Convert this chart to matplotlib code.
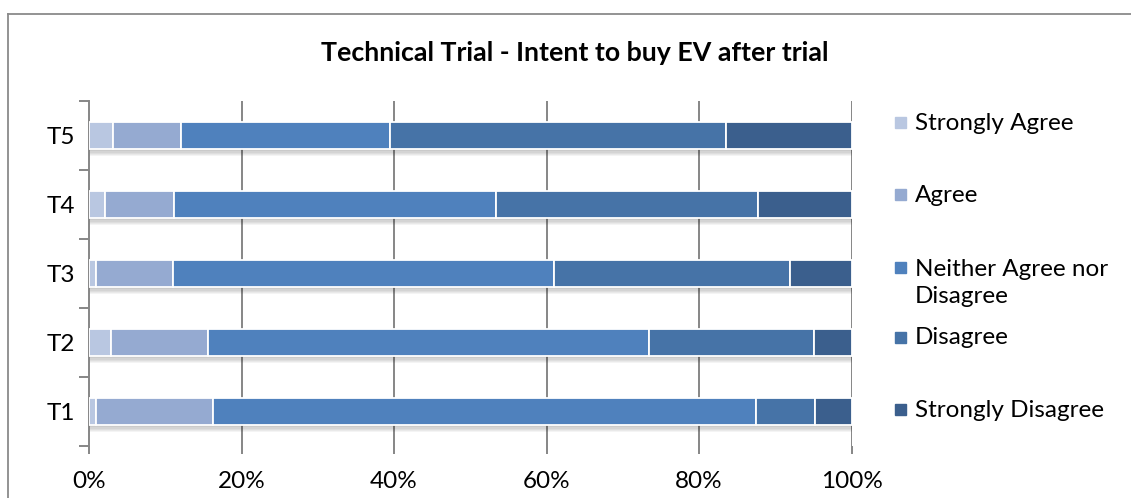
import numpy as np
import matplotlib.pyplot as plt
from matplotlib.lines import Line2D
from matplotlib.patches import Rectangle

plt.rcParams['font.family'] = ['Lato', 'DejaVu Sans']

trials = ['T1', 'T2', 'T3', 'T4', 'T5']
responses = ['Strongly Agree', 'Agree', 'Neither Agree nor\nDisagree', 'Disagree', 'Strongly Disagree']

# share of answers (%) per trial, one list per response
strongly_agree = [0.9, 2.9, 0.9, 2.1, 3.2]
agree = [15.4, 12.7, 10.1, 9.0, 8.8]
neither = [71.2, 57.9, 50.0, 42.3, 27.5]
disagree = [7.7, 21.6, 30.9, 34.4, 44.0]
strongly_disagree = [4.8, 4.9, 8.1, 12.2, 16.5]

colors = ['#B9C7E1', '#95AAD1', '#4F81BD', '#4673A7', '#3B5F8D']
series = [strongly_agree, agree, neither, disagree, strongly_disagree]

W, H = 1131, 498
fig = plt.figure(figsize=(W / 100, H / 100), dpi=100)
ax = fig.add_axes([89 / W, 1 - 446 / H, (851.5 - 89) / W, (446 - 101) / H])

y = np.arange(len(trials))
bar_h = 0.39

# soft drop shadow under each bar
for k in range(1, 7):
    ax.barh(y - 0.018 * k, 100, height=bar_h, left=0, color='#000000',
            alpha=0.045, linewidth=0, zorder=1)
ax.barh(y, 100, height=bar_h, color='white', linewidth=0, zorder=1.5)

left = np.zeros(len(trials))
for vals, c in zip(series, colors):
    vals = np.array(vals)
    ax.barh(y, vals, height=bar_h, left=left, color=c, edgecolor='white',
            linewidth=1.3, zorder=3)
    left += vals

ax.set_xlim(0, 100)
ax.set_ylim(-0.5, len(trials) - 0.5)

grid_c = '#868686'
for gx in [20, 40, 60, 80, 100]:
    ax.axvline(gx, color=grid_c, lw=1.4, zorder=0.5)

for s in ['top', 'right', 'bottom']:
    ax.spines[s].set_visible(False)
ax.spines['left'].set_color(grid_c)
ax.spines['left'].set_linewidth(1.4)

ax.set_xticks([0, 20, 40, 60, 80, 100])
ax.set_xticklabels(['0%', '20%', '40%', '60%', '80%', '100%'], fontsize=17.5)
ax.set_yticks(y)
ax.set_yticklabels(trials, fontsize=17.5)
ax.set_yticks(np.arange(-0.5, len(trials)), minor=True)
ax.tick_params(axis='y', which='major', length=0, pad=10)
ax.tick_params(axis='y', which='minor', length=7, width=1.4, color=grid_c)
ax.tick_params(axis='x', length=6, width=1.4, color=grid_c, pad=12)

fig.text(575 / W, 1 - 53 / H, 'Technical Trial - Intent to buy EV after trial',
         ha='center', va='center', fontsize=19.3, fontweight='bold')

# legend entries
leg_y = [123, 195, 283, 338, 410]
for lbl, c, ly in zip(responses, colors, leg_y):
    sq_y = ly - 15 if '\n' in lbl else ly
    fig.patches.append(Rectangle((895 / W, 1 - (sq_y + 5) / H), 11 / W, 11 / H,
                                 transform=fig.transFigure, color=c))
    fig.text(915 / W, 1 - ly / H, lbl, ha='left', va='center', fontsize=17.5,
             linespacing=1.4)

# chart frame
fig.add_artist(Line2D([8 / W, 1], [1 - 14 / H, 1 - 14 / H], color='#8A8A8A', lw=1.3,
                      transform=fig.transFigure))
fig.add_artist(Line2D([8 / W, 8 / W], [0, 1 - 14 / H], color='#8A8A8A', lw=1.3,
                      transform=fig.transFigure))

fig.savefig('out.png', dpi=100)
